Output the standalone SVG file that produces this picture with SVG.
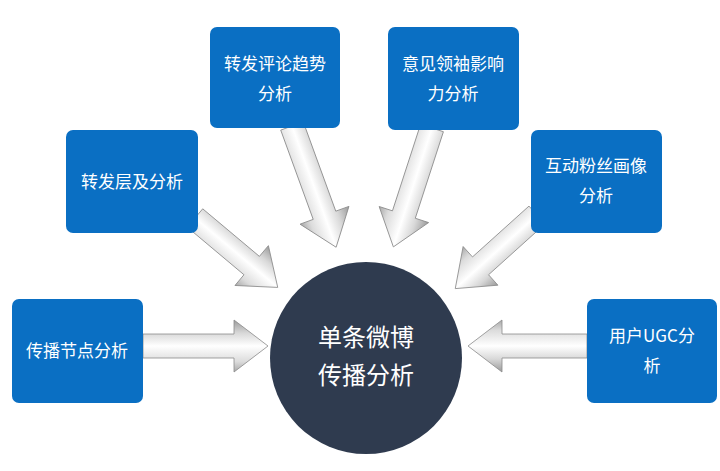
<svg xmlns="http://www.w3.org/2000/svg" width="720" height="471" viewBox="0 0 720 471">
<defs>
<linearGradient id="g" x1="0" y1="0" x2="0" y2="1">
<stop offset="0" stop-color="#9a9a9a"/><stop offset="0.25" stop-color="#d8d8d8"/><stop offset="0.5" stop-color="#ffffff"/><stop offset="0.8" stop-color="#dcdcdc"/><stop offset="1" stop-color="#a8a8a8"/>
</linearGradient>
<style>
.box{fill:#0a6fc3;}
.t{fill:#fff;font-family:"Noto Sans CJK SC","Liberation Sans",sans-serif;font-size:17px;text-anchor:middle;}
.c{fill:#fff;font-family:"Noto Sans CJK SC","Liberation Sans",sans-serif;font-size:24px;text-anchor:middle;}
.a{fill:url(#g);stroke:#8a8a8a;stroke-width:0.8;}
</style>
</defs>
<rect width="720" height="471" fill="#fff"/>
<g id="connectors">
<path class="a" transform="translate(195,218) rotate(40)" d="M0,-12 H74 V-26 L108,0 L74,26 V12 H0 Z"/>
<path class="a" transform="translate(292,126) rotate(70)" d="M0,-12 H95 V-26 L129,0 L95,26 V12 H0 Z"/>
<path class="a" transform="translate(432,128) rotate(108)" d="M0,-12 H91 V-26 L125,0 L91,26 V12 H0 Z"/>
<path class="a" transform="translate(537,215) rotate(138)" d="M0,-12 H76 V-26 L110,0 L76,26 V12 H0 Z"/>
<path class="a" transform="translate(143,346)" d="M0,-12 H91 V-26 L125,0 L91,26 V12 H0 Z"/>
<path class="a" transform="translate(587,346) rotate(180)" d="M0,-12 H85 V-26 L119,0 L85,26 V12 H0 Z"/>
</g>
<g id="center"><circle cx="366" cy="358" r="96" fill="#2f3b4f"/>
<text class="c" x="366" y="346">单条微博</text><text class="c" x="366" y="384">传播分析</text></g>
<g id="n1"><rect class="box" x="210" y="27" width="130" height="101" rx="7"/><text class="t" x="275" y="70">转发评论趋势</text><text class="t" x="275" y="100">分析</text></g>
<g id="n2"><rect class="box" x="388" y="27" width="131" height="103" rx="7"/><text class="t" x="453" y="70">意见领袖影响</text><text class="t" x="453" y="100">力分析</text></g>
<g id="n3"><rect class="box" x="66" y="130" width="132" height="103" rx="7"/><text class="t" x="132" y="188">转发层及分析</text></g>
<g id="n4"><rect class="box" x="531" y="130" width="131" height="103" rx="7"/><text class="t" x="596" y="172">互动粉丝画像</text><text class="t" x="596" y="202">分析</text></g>
<g id="n5"><rect class="box" x="12" y="299" width="131" height="104" rx="7"/><text class="t" x="77" y="357">传播节点分析</text></g>
<g id="n6"><rect class="box" x="587" y="299" width="130" height="104" rx="7"/><text class="t" x="652" y="342">用户UGC分</text><text class="t" x="652" y="372">析</text></g>
</svg>
